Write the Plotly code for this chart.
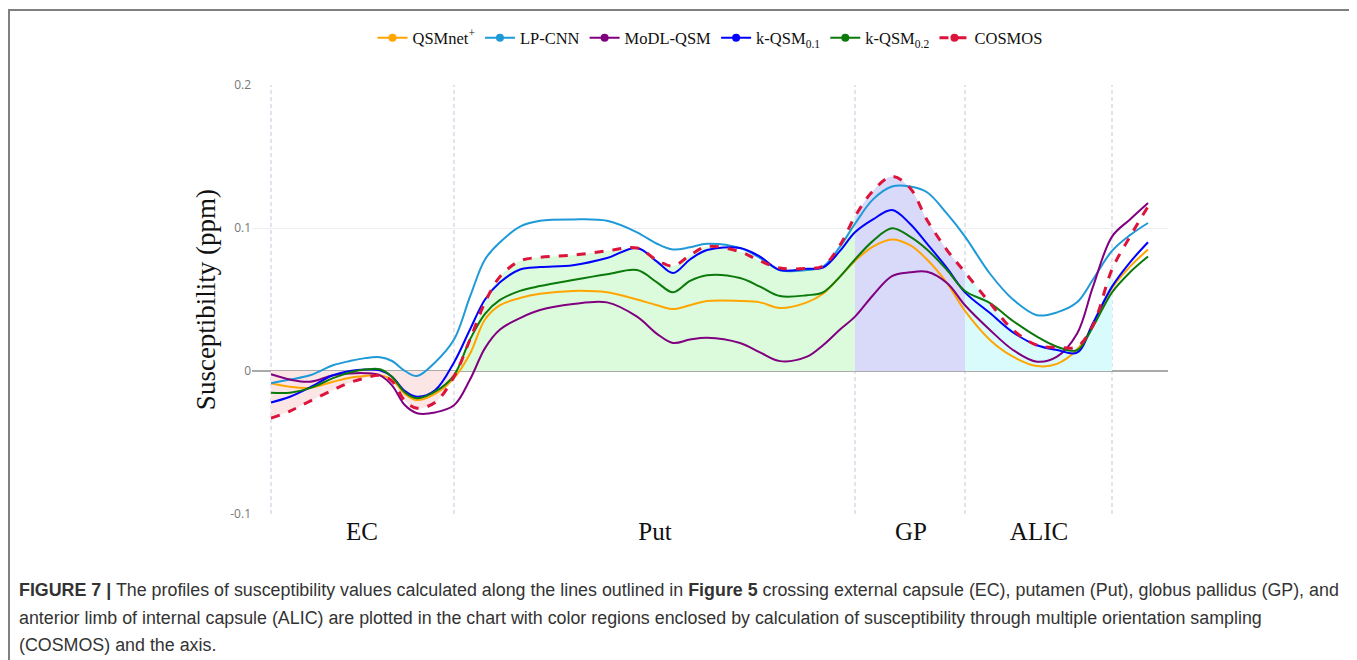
import plotly.graph_objects as go

# positions along the profile (arbitrary distance units)
position = [0, 1.9, 3.9, 6.2, 7.9, 9.4, 10.9, 12.1, 13.4, 14.6, 16.4, 18.3, 19.9, 21.4, 22.9,
            24.9, 26.9, 30.2, 33.6, 36.6, 38.6, 40.2, 41.9, 43.6, 46.9, 48.9, 50.9, 53.6, 55.2,
            56.9, 58.4, 60.2, 62.1, 63.9, 65.6, 67.6, 69.4, 71.9, 74.2, 76.6, 78.6, 80.6, 82.2,
            84.1, 85.9, 87.7]

qsmnet = [-0.0086, -0.011, -0.0117, -0.0075, -0.0047, -0.0035, -0.003, -0.006, -0.016, -0.0203,
          -0.016, -0.005, 0.012, 0.036, 0.046, 0.051, 0.054, 0.056, 0.055, 0.050, 0.046, 0.0433,
          0.046, 0.049, 0.049, 0.048, 0.044, 0.048, 0.054, 0.066, 0.077, 0.087, 0.092, 0.088,
          0.078, 0.0615, 0.042, 0.0217, 0.010, 0.0035, 0.005, 0.015, 0.032, 0.058, 0.073, 0.085]

lpcnn = [-0.0086, -0.006, -0.003, 0.004, 0.007, 0.009, 0.0096, 0.007, 0.0, -0.0035, 0.006, 0.022,
         0.052, 0.078, 0.090, 0.101, 0.105, 0.106, 0.105, 0.097, 0.089, 0.085, 0.0865, 0.089,
         0.086, 0.079, 0.0705, 0.0706, 0.073, 0.087, 0.103, 0.120, 0.129, 0.129, 0.125, 0.110,
         0.094, 0.068, 0.050, 0.039, 0.041, 0.048, 0.064, 0.084, 0.095, 0.1035]

modl = [-0.0023, -0.006, -0.0075, -0.003, -0.0017, -0.0015, -0.003, -0.010, -0.024, -0.0295,
        -0.029, -0.024, -0.006, 0.016, 0.029, 0.037, 0.0426, 0.0468, 0.048, 0.038, 0.026, 0.0196,
        0.022, 0.0233, 0.0196, 0.013, 0.0069, 0.010, 0.018, 0.029, 0.038, 0.053, 0.0664, 0.069,
        0.0694, 0.0615, 0.046, 0.0287, 0.0147, 0.0065, 0.010, 0.026, 0.059, 0.094, 0.106, 0.1175]

kqsm01 = [-0.022, -0.018, -0.0115, -0.003, 0.000, 0.001, 0.0005, -0.004, -0.014, -0.018, -0.0135,
          0.006, 0.029, 0.050, 0.062, 0.071, 0.0727, 0.074, 0.079, 0.086, 0.0765, 0.0685, 0.078,
          0.0846, 0.086, 0.080, 0.0706, 0.0715, 0.0723, 0.084, 0.097, 0.106, 0.1126, 0.103, 0.089,
          0.072, 0.055, 0.0405, 0.027, 0.018, 0.0147, 0.0128, 0.0335, 0.059, 0.076, 0.090]

kqsm02 = [-0.0152, -0.0152, -0.012, -0.005, -0.001, 0.001, 0.0012, -0.004, -0.015, -0.019, -0.0145,
          -0.003, 0.022, 0.040, 0.0497, 0.056, 0.0594, 0.0636, 0.0676, 0.0706, 0.062, 0.055, 0.063,
          0.067, 0.065, 0.059, 0.0524, 0.053, 0.055, 0.066, 0.078, 0.091, 0.0998, 0.094, 0.085,
          0.0706, 0.056, 0.0475, 0.035, 0.024, 0.017, 0.0145, 0.031, 0.055, 0.069, 0.080]

cosmos = [-0.033, -0.028, -0.021, -0.0133, -0.008, -0.005, -0.003, -0.007, -0.021, -0.026, -0.022,
          -0.004, 0.022, 0.048, 0.066, 0.077, 0.0795, 0.081, 0.084, 0.086, 0.0776, 0.0734, 0.081,
          0.087, 0.0834, 0.077, 0.072, 0.0718, 0.0734, 0.088, 0.108, 0.126, 0.136, 0.128, 0.1056,
          0.0846, 0.069, 0.0475, 0.0287, 0.018, 0.0166, 0.017, 0.032, 0.071, 0.094, 0.115]

region_names = ["EC", "Put", "GP", "ALIC"]
region_bounds = [0, 18.3, 58.4, 69.4, 84.1]
region_label_pos = [9.1, 38.4, 64.0, 76.8]
region_fill = ["#fbe5e5", "#dcfbdc", "#d9d9fa", "#d9fbfb"]

series = [
    ("QSMnet<sup>+</sup>", qsmnet, "#ffa500", "solid", 2),
    ("LP-CNN", lpcnn, "#1f9ad8", "solid", 2),
    ("MoDL-QSM", modl, "#800080", "solid", 2),
    ("k-QSM<sub>0.1</sub>", kqsm01, "#0000ff", "solid", 2),
    ("k-QSM<sub>0.2</sub>", kqsm02, "#0b7a0b", "solid", 2),
    ("COSMOS", cosmos, "#dc143c", "dash", 3),
]

fig = go.Figure()

# coloured regions between COSMOS and the axis
for i, col in enumerate(region_fill):
    lo, hi = region_bounds[i], region_bounds[i + 1]
    xs = [x for x in position if lo - 1e-9 <= x <= hi + 1e-9]
    ys = [y for x, y in zip(position, cosmos) if lo - 1e-9 <= x <= hi + 1e-9]
    fig.add_trace(go.Scatter(x=xs, y=ys, mode="lines", line=dict(width=0, shape="spline"),
                             fill="tozeroy", fillcolor=col, showlegend=False, hoverinfo="skip"))

for name, vals, color, dash, w in series:
    fig.add_trace(go.Scatter(x=position, y=vals, mode="lines", name=name,
                             line=dict(color=color, width=w, dash=dash, shape="spline"),
                             showlegend=False))
    fig.add_trace(go.Scatter(x=[None], y=[None], mode="lines+markers", name=name,
                             line=dict(color=color, width=w, dash=dash),
                             marker=dict(color=color, size=8), showlegend=True))

shapes = []
for b in region_bounds:
    shapes.append(dict(type="line", xref="x", yref="y", x0=b, x1=b, y0=-0.1, y1=0.2,
                       line=dict(color="#c4c7dc", width=1, dash="4px,3px"), layer="below"))

OFF = 8  # page offset of the figure inside the browser
W, H = 1357 - OFF, 660 - OFF
L, R, T, B = 252 - OFF, 1168 - OFF, 85 - OFF, 514 - OFF
pw, ph = R - L, B - T


def fx(p):  # figure pixel -> paper x
    return (p - L) / pw


def fy(p):  # figure pixel -> paper y
    return (B - p) / ph


# outer frame (left, top, right)
frame = dict(color="#808080", width=2)
shapes.append(dict(type="line", xref="paper", yref="paper", x0=fx(1), x1=fx(1),
                   y0=fy(H + 20), y1=fy(2), line=frame, layer="above"))
shapes.append(dict(type="line", xref="paper", yref="paper", x0=fx(0), x1=fx(1344),
                   y0=fy(2), y1=fy(2), line=frame, layer="above"))
shapes.append(dict(type="line", xref="paper", yref="paper", x0=fx(1344), x1=fx(1344),
                   y0=fy(H + 20), y1=fy(2), line=frame, layer="above"))

caption = [
    "<b>FIGURE 7 |</b> The profiles of susceptibility values calculated along the lines outlined in "
    "<b>Figure 5</b> crossing external capsule (EC), putamen (Put), globus pallidus (GP), and",
    "anterior limb of internal capsule (ALIC) are plotted in the chart with color regions enclosed by "
    "calculation of susceptibility through multiple orientation sampling",
    "(COSMOS) and the axis.",
]
annotations = []
for line, yy in zip(caption, [590, 618, 645]):
    annotations.append(dict(text=line, xref="paper", yref="paper", x=fx(17 - OFF), y=fy(yy - OFF),
                            xanchor="left", yanchor="middle", showarrow=False, align="left",
                            font=dict(family="Liberation Sans, Arial", size=17.85, color="#333333")))

fig.update_layout(
    width=W, height=H,
    margin=dict(l=L, r=W - R, t=T, b=H - B, pad=0),
    paper_bgcolor="white", plot_bgcolor="white",
    shapes=shapes, annotations=annotations,
    legend=dict(orientation="h", x=0.5, xanchor="center", y=fy(38 - OFF), yanchor="middle",
                font=dict(family="Liberation Serif, Times New Roman", size=16.5, color="#111"),
                itemwidth=30, tracegroupgap=0),
    xaxis=dict(range=[(252 - 271) / 10, (1168 - 271) / 10], showgrid=False, zeroline=False,
               showline=False, tickmode="array", tickvals=region_label_pos, ticktext=region_names,
               ticks="", tickfont=dict(family="Liberation Serif, Times New Roman", size=25,
                                       color="#111")),
    yaxis=dict(range=[-0.1, 0.2], tickvals=[-0.1, 0, 0.1, 0.2], ticktext=["-0.1", "0", "0.1", "0.2"],
               showgrid=True, gridcolor="#ececf2", gridwidth=1, zeroline=True, zerolinecolor="#aaaaaa",
               zerolinewidth=2, showline=False, ticks="",
               tickfont=dict(family="Open Sans, Arial", size=12, color="#777"),
               title=dict(text="Susceptibility (ppm)", standoff=6,
                          font=dict(family="Liberation Serif, Times New Roman", size=27,
                                    color="#111"))),
)

fig.write_html("out.html")
